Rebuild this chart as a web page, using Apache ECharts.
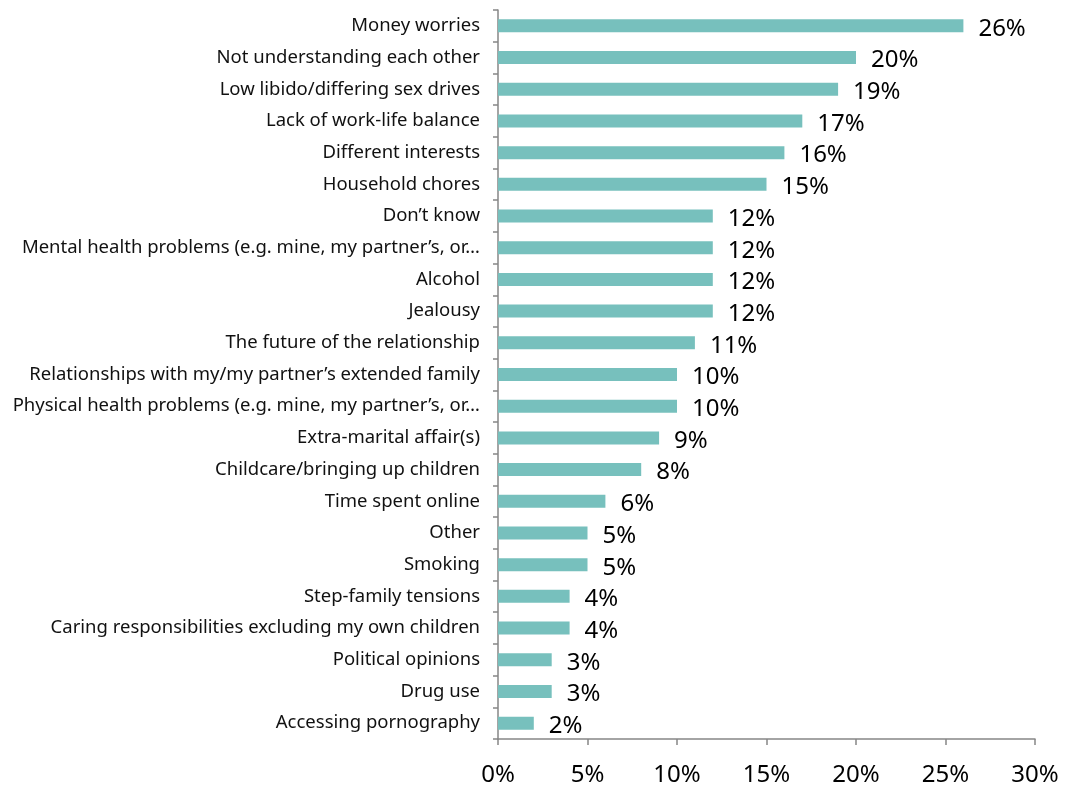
<!DOCTYPE html>
<html>
<head>
<meta charset="utf-8">
<script src="https://cdn.jsdelivr.net/npm/echarts@6/dist/echarts.min.js"></script>
<style>
  html, body { margin: 0; padding: 0; background: #fff; }
  #chart { width: 1065px; height: 787px; }
</style>
</head>
<body>
<div id="chart"></div>
<script>
// categories, top to bottom
const categories = [
  "Money worries",
  "Not understanding each other",
  "Low libido/differing sex drives",
  "Lack of work-life balance",
  "Different interests",
  "Household chores",
  "Don\u2019t know",
  "Mental health problems (e.g. mine, my partner\u2019s, or\u2026",
  "Alcohol",
  "Jealousy",
  "The future of the relationship",
  "Relationships with my/my partner\u2019s extended family",
  "Physical health problems (e.g. mine, my partner\u2019s, or\u2026",
  "Extra-marital affair(s)",
  "Childcare/bringing up children",
  "Time spent online",
  "Other",
  "Smoking",
  "Step-family tensions",
  "Caring responsibilities excluding my own children",
  "Political opinions",
  "Drug use",
  "Accessing pornography"
];
// percent values
const values = [26, 20, 19, 17, 16, 15, 12, 12, 12, 12, 11, 10, 10, 9, 8, 6, 5, 5, 4, 4, 3, 3, 2];
const xTicks = [0, 5, 10, 15, 20, 25, 30];

const font = "'Source Sans Pro', 'Noto Sans', sans-serif";
const chart = echarts.init(document.getElementById("chart"));
chart.setOption({
  animation: false,
  grid: { left: 498, right: 30, top: 10, bottom: 47 },
  xAxis: {
    type: "value",
    min: xTicks[0],
    max: xTicks[xTicks.length - 1],
    interval: 5,
    axisLine: { show: true, lineStyle: { color: "#868686", width: 1.5 } },
    axisTick: { show: true, length: 6, lineStyle: { color: "#868686", width: 1.5 } },
    splitLine: { show: false },
    axisLabel: {
      formatter: v => v + "%",
      fontSize: 24,
      color: "#000",
      fontFamily: font,
      margin: 24
    }
  },
  yAxis: {
    type: "category",
    data: categories,
    inverse: true,
    axisLine: { show: true, lineStyle: { color: "#868686", width: 1.5 } },
    axisTick: { show: true, length: 5, lineStyle: { color: "#868686", width: 1.5 } },
    axisLabel: {
      fontSize: 18.5,
      color: "#111",
      fontFamily: font,
      margin: 18
    }
  },
  series: [{
    type: "bar",
    data: values,
    barWidth: 13,
    itemStyle: { color: "#77C0BD" },
    label: {
      show: true,
      position: "right",
      distance: 15,
      formatter: p => p.value + "%",
      fontSize: 24,
      color: "#000",
      fontFamily: font,
      offset: [0, 3]
    }
  }]
});
</script>
</body>
</html>
